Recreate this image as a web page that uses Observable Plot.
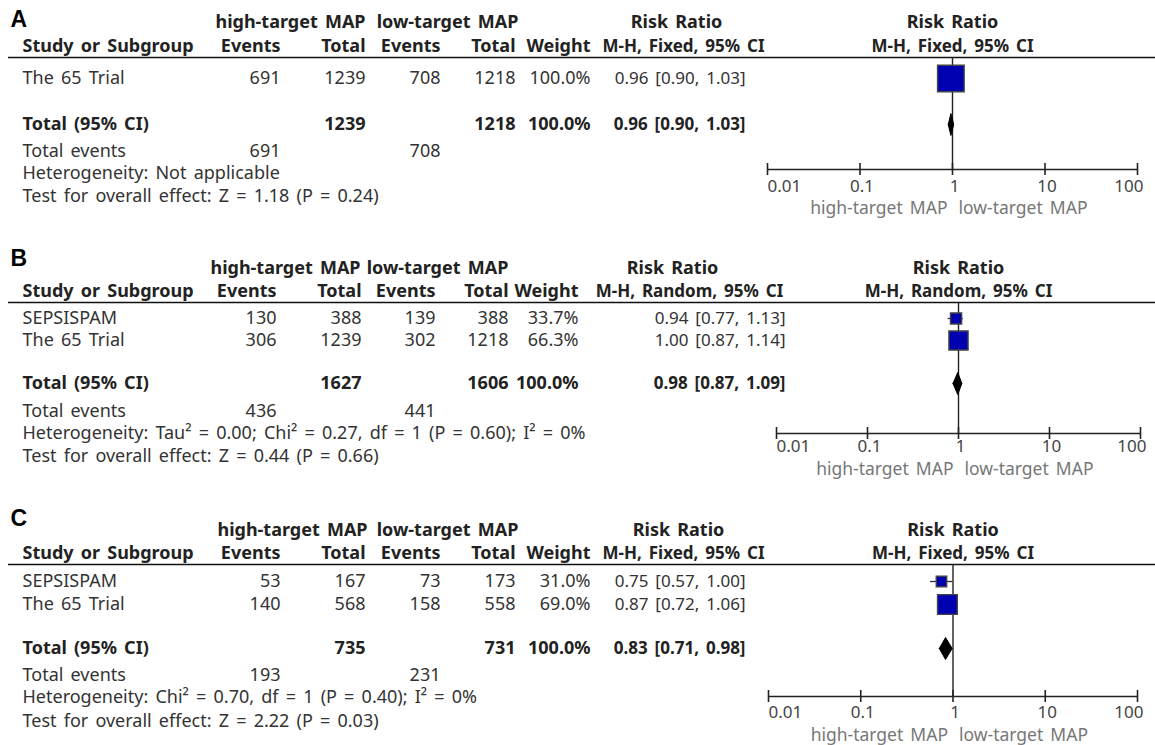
<!DOCTYPE html>
<html>
<head>
<meta charset="utf-8">
<script src="https://cdn.jsdelivr.net/npm/d3@7"></script>
<script src="https://cdn.jsdelivr.net/npm/@observablehq/plot@0.6"></script>
<style>
  html, body { margin: 0; padding: 0; background: #fff; }
  #chart svg { display: block; }
</style>
</head>
<body>
<div id="chart"></div>
<script>
// ---------- data ----------
const panelLetters = ["A", "B", "C"];
const methodLabels = ["M-H, Fixed, 95% CI", "M-H, Random, 95% CI", "M-H, Fixed, 95% CI"];
const effectLabel = "Risk Ratio";
const groupLabels = ["high-target MAP", "low-target MAP"];
const colHeaders = ["Study or Subgroup", "Events", "Total", "Events", "Total", "Weight"];
const rowLabels = ["Total (95% CI)", "Total events"];

const studies    = [["The 65 Trial"], ["SEPSISPAM", "The 65 Trial"], ["SEPSISPAM", "The 65 Trial"]];
const highEvents = [[691], [130, 306], [53, 140]];
const highTotal  = [[1239], [388, 1239], [167, 568]];
const lowEvents  = [[708], [139, 302], [73, 158]];
const lowTotal   = [[1218], [388, 1218], [173, 558]];
const weights    = [[100.0], [33.7, 66.3], [31.0, 69.0]];
const rrEst      = [[0.96], [0.94, 1.00], [0.75, 0.87]];
const rrLow      = [[0.90], [0.77, 0.87], [0.57, 0.72]];
const rrHigh     = [[1.03], [1.13, 1.14], [1.00, 1.06]];

const sumHighTotal  = [1239, 1627, 735];
const sumLowTotal   = [1218, 1606, 731];
const sumHighEvents = [691, 436, 193];
const sumLowEvents  = [708, 441, 231];
const pooledEst  = [0.96, 0.98, 0.83];
const pooledLow  = [0.90, 0.87, 0.71];
const pooledHigh = [1.03, 1.09, 0.98];

const heterogeneity = [
  "Heterogeneity: Not applicable",
  "Heterogeneity: Tau² = 0.00; Chi² = 0.27, df = 1 (P = 0.60); I² = 0%",
  "Heterogeneity: Chi² = 0.70, df = 1 (P = 0.40); I² = 0%"
];
const overallEffect = [
  "Test for overall effect: Z = 1.18 (P = 0.24)",
  "Test for overall effect: Z = 0.44 (P = 0.66)",
  "Test for overall effect: Z = 2.22 (P = 0.03)"
];
const tickValues = [0.01, 0.1, 1, 10, 100];
const tickLabels = ["0.01", "0.1", "1", "10", "100"];

// ---------- layout (pixels) ----------
const layouts = [
  {h: 246, cols: [22, 280, 365, 440, 515, 590, 745], grp: [290, 447], rr1: [676, 683], axis: [767, 1137],
   rows: [78], y: {label: 19, h1: 22, h2: 46, rule: 57, total: 124, te: 151, het: 173, test: 196, axis: 169, tick: 186, sub: 208}},
  {h: 260, cols: [22, 276, 361, 435, 508, 578, 785], grp: [285, 437], rr1: [672, 689], axis: [776, 1140],
   rows: [72, 94], y: {label: 12, h1: 22, h2: 45, rule: 56, total: 137, te: 165, het: 187, test: 210, axis: 187, tick: 200, sub: 223}},
  {h: 239, cols: [22, 280, 365, 440, 515, 590, 745], grp: [292, 447], rr1: [678, 683], axis: [768, 1137],
   rows: [75, 98], y: {label: 12, h1: 24, h2: 47, rule: 58, total: 142, te: 169, het: 191, test: 215, axis: 190, tick: 206, sub: 229}}
];

const FONT = "'Noto Sans', 'Noto Sans CJK JP', sans-serif";
const FS_TEXT = 18, FS_NUM = 18, FS_CI = 17, FS_HEAD = 18, FS_METHOD = 17, FS_TICK = 17, FS_SUB = 17.5;
const TXT = "#333";
const HEAD = "#222";
const ci = (a, b, c) => `${a.toFixed(2)} [${b.toFixed(2)}, ${c.toFixed(2)}]`;

function panel(i) {
  const L = layouts[i], Y = L.y, C = L.cols;
  const sd = studies[i].map((s, j) => ({
    name: s, he: highEvents[i][j], ht: highTotal[i][j], le: lowEvents[i][j], lt: lowTotal[i][j],
    w: weights[i][j], rr: rrEst[i][j], lo: rrLow[i][j], hi: rrHigh[i][j], y: L.rows[j]
  }));
  const T = (data, px, opts) => Plot.text(data, {
    frameAnchor: "left", dx: px, fontSize: FS_TEXT, fill: TXT, lineAnchor: "middle", ...opts
  });
  const B = {fontWeight: "bold", fill: HEAD, fontSize: FS_HEAD};
  const N = {fontSize: FS_NUM, textAnchor: "end"};
  const one = (v) => [v];
  const id = d => d;
  const dh = 11; // diamond half height
  const diamond = [
    {x: pooledLow[i], y: Y.total}, {x: pooledEst[i], y: Y.total - dh},
    {x: pooledHigh[i], y: Y.total}, {x: pooledEst[i], y: Y.total + dh}, {x: pooledLow[i], y: Y.total}
  ];
  const sumW = d3.sum(weights[i]);

  const marks = [
    // panel letter
    T(one(panelLetters[i]), 10, {y: Y.label, text: id, fontSize: 23, fontWeight: "bold", fontFamily: "'Liberation Sans', Arial, sans-serif", fill: "#000"}),
    // header line 1
    T(one(groupLabels[0]), L.grp[0], {y: Y.h1, text: id, ...B, textAnchor: "middle"}),
    T(one(groupLabels[1]), L.grp[1], {y: Y.h1, text: id, ...B, textAnchor: "middle"}),
    T(one(effectLabel), L.rr1[0], {y: Y.h1, text: id, ...B, textAnchor: "middle"}),
    // header line 2
    T(one(colHeaders[0]), C[0], {y: Y.h2, text: id, ...B}),
    ...colHeaders.slice(1).map((h, k) => T(one(h), C[k + 1], {y: Y.h2, text: id, ...B, textAnchor: "end"})),
    T(one(methodLabels[i]), L.rr1[1], {y: Y.h2, text: id, ...B, fontSize: FS_METHOD, textAnchor: "middle"}),
    // forest header
    Plot.text(one(effectLabel), {x: 1, y: Y.h1, text: id, ...B, lineAnchor: "middle"}),
    Plot.text(one(methodLabels[i]), {x: 1, y: Y.h2, text: id, ...B, fontSize: FS_METHOD, lineAnchor: "middle"}),
    // header rule
    Plot.ruleY(one(Y.rule), {y: id, insetLeft: 8, stroke: "#111", strokeWidth: 1.6}),
    // study rows
    T(sd, C[0], {y: "y", text: "name"}),
    T(sd, C[1], {y: "y", text: d => String(d.he), ...N}),
    T(sd, C[2], {y: "y", text: d => String(d.ht), ...N}),
    T(sd, C[3], {y: "y", text: d => String(d.le), ...N}),
    T(sd, C[4], {y: "y", text: d => String(d.lt), ...N}),
    T(sd, C[5], {y: "y", text: d => d.w.toFixed(1) + "%", ...N}),
    T(sd, C[6], {y: "y", text: d => ci(d.rr, d.lo, d.hi), fontSize: FS_CI, textAnchor: "end"}),
    // total row
    T(one(rowLabels[0]), C[0], {y: Y.total, text: id, ...B}),
    T(one(sumHighTotal[i]), C[2], {y: Y.total, text: d => String(d), ...B, textAnchor: "end"}),
    T(one(sumLowTotal[i]), C[4], {y: Y.total, text: d => String(d), ...B, textAnchor: "end"}),
    T(one(sumW), C[5], {y: Y.total, text: d => d.toFixed(1) + "%", ...B, textAnchor: "end"}),
    T(one(i), C[6], {y: Y.total, text: k => ci(pooledEst[k], pooledLow[k], pooledHigh[k]), ...B, fontSize: FS_CI, textAnchor: "end"}),
    // total events
    T(one(rowLabels[1]), C[0], {y: Y.te, text: id}),
    T(one(sumHighEvents[i]), C[1], {y: Y.te, text: d => String(d), ...N}),
    T(one(sumLowEvents[i]), C[3], {y: Y.te, text: d => String(d), ...N}),
    // footnotes
    T(one(heterogeneity[i]), C[0], {y: Y.het, text: id}),
    T(one(overallEffect[i]), C[0], {y: Y.test, text: id}),

    // ---- forest plot ----
    Plot.ruleX(one(1), {x: id, y1: Y.rule, y2: Y.axis, stroke: "#222", strokeWidth: 1.4}),
    Plot.ruleY(sd, {x1: "lo", x2: "hi", y: "y", stroke: "#333", strokeWidth: 1.3}),
    Plot.dot(sd, {x: "rr", y: "y", r: "w", symbol: "square", fill: "#0000b0", stroke: "#444", strokeWidth: 1.4}),
    Plot.line(diamond, {x: "x", y: "y", fill: "#000", stroke: "#000", strokeWidth: 1}),
    // axis
    Plot.ruleY(one(Y.axis), {y: id, x1: tickValues[0], x2: tickValues[tickValues.length - 1], stroke: "#222", strokeWidth: 1.6}),
    Plot.ruleX(tickValues, {x: id, y1: Y.axis - 6, y2: Y.axis + 6, stroke: "#222", strokeWidth: 1.6}),
    Plot.text(tickValues.slice(0, 1), {x: id, y: Y.tick, text: () => tickLabels[0], textAnchor: "start", fontSize: FS_TICK, fill: "#444", lineAnchor: "middle"}),
    Plot.text(tickValues.slice(1, -1), {x: id, y: Y.tick, text: (d, k) => tickLabels[k + 1], textAnchor: "middle", dx: 2, fontSize: FS_TICK, fill: "#444", lineAnchor: "middle"}),
    Plot.text(tickValues.slice(-1), {x: id, y: Y.tick, text: () => tickLabels[tickLabels.length - 1], textAnchor: "end", dx: 6, fontSize: FS_TICK, fill: "#444", lineAnchor: "middle"}),
    Plot.text(one(groupLabels[0]), {x: 1, y: Y.sub, text: id, textAnchor: "end", dx: -5, fontSize: FS_SUB, fill: "#777", lineAnchor: "middle"}),
    Plot.text(one(groupLabels[1]), {x: 1, y: Y.sub, text: id, textAnchor: "start", dx: 6, fontSize: FS_SUB, fill: "#777", lineAnchor: "middle"})
  ];

  return Plot.plot({
    width: 1155,
    height: L.h,
    margin: 0,
    style: {fontFamily: FONT, fontSize: "18px", wordSpacing: "2.5px", background: "#fff", overflow: "visible"},
    x: {type: "log", domain: [0.01, 100], range: L.axis, axis: null},
    y: {type: "identity", axis: null},
    r: {type: "pow", exponent: 0.8, domain: [0, 100], range: [0, 15]},
    marks
  });
}

const root = document.getElementById("chart");
for (let i = 0; i < 3; i++) root.appendChild(panel(i));
</script>
</body>
</html>
